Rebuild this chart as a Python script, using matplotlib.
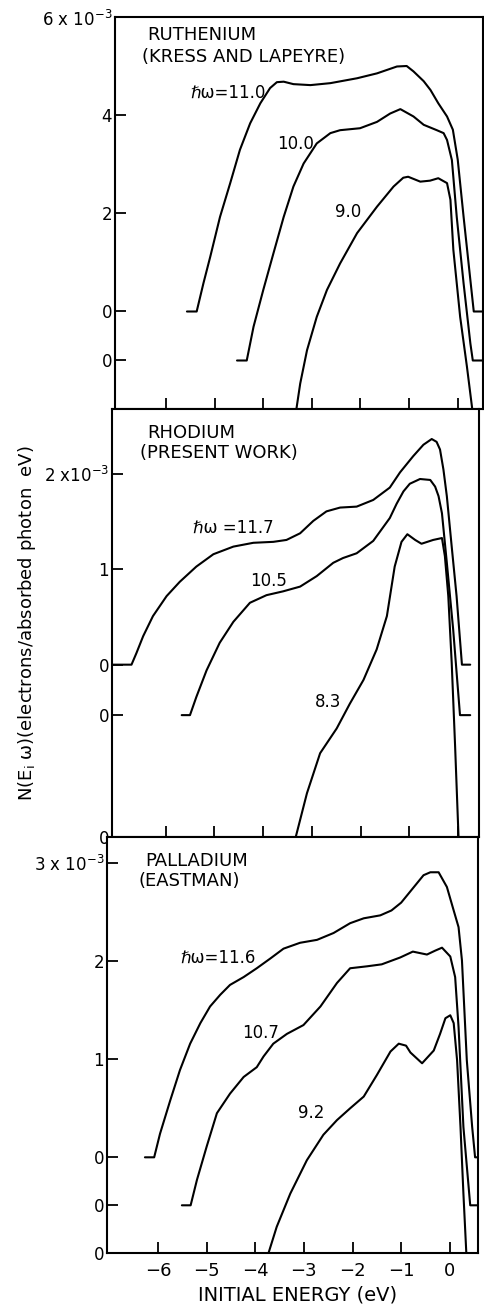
import matplotlib
matplotlib.use("Agg")
import matplotlib.pyplot as plt
import numpy as np

# ---------------- data (N in units of 1e-3 electrons/absorbed photon eV) ----------------
energy_ticks = [-6, -5, -4, -3, -2, -1, 0]
energy_tick_labels = ["\u22126", "\u22125", "\u22124", "\u22123", "\u22122", "\u22121", "0"]

# Ruthenium (Kress and Lapeyre)
ru_110_e = [-5.57, -5.37, -5.23, -5.09, -4.89, -4.68, -4.48, -4.27, -4.06, -3.86, -3.72, -3.58,
            -3.38, -3.03, -2.62, -2.07, -1.66, -1.25, -1.05, -0.91, -0.70, -0.56, -0.40, -0.22,
            -0.10, 0.00, 0.12, 0.23, 0.33, 0.60]
ru_110_n = [0, 0, 0.58, 1.12, 1.93, 2.62, 3.30, 3.84, 4.25, 4.56, 4.68, 4.69,
            4.64, 4.62, 4.66, 4.76, 4.86, 5.00, 5.01, 4.90, 4.70, 4.52, 4.25, 3.98,
            3.71, 3.10, 1.94, 0.92, 0, 0]
ru_100_e = [-4.54, -4.34, -4.20, -4.00, -3.79, -3.58, -3.38, -3.17, -2.90, -2.62, -2.42, -2.01,
            -1.66, -1.39, -1.18, -0.91, -0.70, -0.43, -0.29, -0.22, -0.12, -0.02, 0.12, 0.26,
            0.31, 0.60]
ru_100_n = [0, 0, 0.69, 1.44, 2.19, 2.93, 3.55, 4.02, 4.43, 4.64, 4.70, 4.74,
            4.87, 5.04, 5.13, 4.98, 4.81, 4.70, 4.64, 4.50, 4.09, 2.93, 1.58, 0.35,
            0, 0]
ru_90_e = [-3.32, -3.24, -3.10, -2.90, -2.69, -2.42, -2.07, -1.66, -1.32, -1.12, -1.02, -0.77,
           -0.57, -0.40, -0.22, -0.15, -0.09, 0.05, 0.19, 0.30]
ru_90_n = [0, 0.53, 1.21, 1.89, 2.44, 2.98, 3.60, 4.14, 4.55, 4.73, 4.75, 4.65,
           4.67, 4.72, 4.62, 4.28, 3.26, 1.89, 0.87, 0]
ru_offsets = [2.0, 1.0, 0.0]
ru_labels = ["\u210f\u03c9=11.0", "10.0", "9.0"]

# Rhodium (present work)
rh_117_e = [-7.10, -6.70, -6.60, -6.46, -6.26, -5.98, -5.71, -5.37, -5.02, -4.61, -4.20, -3.79,
            -3.52, -3.24, -2.97, -2.70, -2.42, -2.08, -1.74, -1.40, -1.19, -0.92, -0.71, -0.54,
            -0.44, -0.37, -0.30, -0.23, -0.13, -0.03, 0.08, 0.25]
rh_117_n = [0, 0, 0.12, 0.30, 0.51, 0.72, 0.87, 1.03, 1.16, 1.24, 1.28, 1.29,
            1.31, 1.38, 1.51, 1.61, 1.65, 1.66, 1.73, 1.86, 2.02, 2.19, 2.31, 2.37,
            2.34, 2.26, 2.05, 1.77, 1.24, 0.72, 0, 0]
rh_105_e = [-5.67, -5.50, -5.37, -5.16, -4.89, -4.61, -4.27, -3.93, -3.59, -3.24, -2.90, -2.56,
            -2.36, -2.08, -1.74, -1.40, -1.26, -1.12, -0.99, -0.78, -0.57, -0.47, -0.40, -0.33,
            -0.23, -0.10, 0.04, 0.25]
rh_105_n = [0, 0, 0.19, 0.47, 0.76, 0.98, 1.18, 1.26, 1.30, 1.35, 1.46, 1.60,
            1.65, 1.70, 1.83, 2.07, 2.22, 2.35, 2.43, 2.48, 2.47, 2.40, 2.30, 2.12,
            1.60, 0.90, 0, 0]
rh_83_e = [-3.33, -3.10, -2.83, -2.49, -2.22, -1.94, -1.67, -1.46, -1.30, -1.16, -1.04,
           -0.88, -0.75, -0.51, -0.33, -0.27, -0.20, -0.13, -0.06, 0.01]
rh_83_n = [0, 0.46, 0.88, 1.14, 1.40, 1.65, 1.97, 2.32, 2.84, 3.10, 3.18,
           3.12, 3.08, 3.12, 3.14, 2.95, 2.53, 1.83, 0.95, 0]
rh_offsets = [1.81, 1.28, 0.0]
rh_labels = ["\u210f\u03c9 =11.7", "10.5", "8.3"]

# Palladium (Eastman)
pd_116_e = [-6.27, -6.08, -5.96, -5.75, -5.55, -5.34, -5.13, -4.93, -4.72, -4.52, -4.24, -3.97,
            -3.69, -3.42, -3.08, -2.73, -2.39, -2.05, -1.77, -1.43, -1.20, -1.00, -0.77, -0.54,
            -0.40, -0.23, -0.06, 0.08, 0.18, 0.25, 0.35, 0.46, 0.52, 0.60]
pd_116_n = [0, 0, 0.24, 0.58, 0.89, 1.16, 1.37, 1.54, 1.66, 1.76, 1.84, 1.93,
            2.03, 2.13, 2.19, 2.22, 2.29, 2.39, 2.44, 2.47, 2.52, 2.60, 2.74, 2.88,
            2.91, 2.91, 2.76, 2.52, 2.35, 2.01, 0.99, 0.31, 0, 0]
pd_107_e = [-5.51, -5.33, -5.20, -5.00, -4.79, -4.52, -4.24, -3.97, -3.83, -3.63, -3.35, -3.01,
            -2.66, -2.32, -2.05, -1.70, -1.40, -1.02, -0.76, -0.47, -0.30, -0.16, 0.01, 0.11,
            0.18, 0.28, 0.42, 0.60]
pd_107_n = [0, 0, 0.26, 0.60, 0.94, 1.14, 1.31, 1.41, 1.52, 1.65, 1.75, 1.84,
            2.03, 2.27, 2.42, 2.44, 2.46, 2.53, 2.59, 2.56, 2.60, 2.63, 2.54, 2.33,
            1.82, 0.80, 0, 0]
pd_92_e = [-3.73, -3.56, -3.28, -2.94, -2.60, -2.32, -2.05, -1.77, -1.50, -1.22, -1.05, -0.90,
           -0.81, -0.57, -0.33, -0.20, -0.09, 0.01, 0.08, 0.15, 0.22, 0.28, 0.34]
pd_92_n = [0, 0.27, 0.61, 0.95, 1.21, 1.36, 1.48, 1.60, 1.82, 2.06, 2.14, 2.12,
           2.05, 1.94, 2.07, 2.24, 2.40, 2.43, 2.35, 1.97, 1.29, 0.61, 0]
pd_offsets = [0.98, 0.49, 0.0]
pd_labels = ["\u210f\u03c9=11.6", "10.7", "9.2"]

# y tick labels (values refer to the uppermost curve of each panel)
ru_ytick_labels = ["0", "0", "2", "4", "6 x 10$^{-3}$"]
rh_ytick_labels = ["0", "0", "0", "1", "2 x10$^{-3}$"]
pd_ytick_labels = ["0", "0", "0", "1", "2", "3 x 10$^{-3}$"]

# ---------------- figure ----------------
W, H = 484, 1306
plt.rcParams['font.family'] = ['DejaVu Sans']
fig = plt.figure(figsize=(W / 100, H / 100), dpi=100)


def px_axes(x0, y_top, x1, y_bot):
    return fig.add_axes([x0 / W, 1 - y_bot / H, (x1 - x0) / W, (y_bot - y_top) / H])


# panel frames (pixel boxes) and energy limits
ax_ru = px_axes(115, 17, 483, 409.5)
ax_rh = px_axes(112, 409.5, 479, 837)
ax_pd = px_axes(107, 837, 478, 1253.3)
xlims = {ax_ru: (-7.05, 0.52), ax_rh: (-7.10, 0.43), ax_pd: (-7.05, 0.58)}

panels = [
    (ax_ru, [(ru_110_e, ru_110_n), (ru_100_e, ru_100_n), (ru_90_e, ru_90_n)], ru_offsets,
     8.01, ru_ytick_labels),
    (ax_rh, [(rh_117_e, rh_117_n), (rh_105_e, rh_105_n), (rh_83_e, rh_83_n)], rh_offsets,
     4.49, rh_ytick_labels),
    (ax_pd, [(pd_116_e, pd_116_n), (pd_107_e, pd_107_n), (pd_92_e, pd_92_n)], pd_offsets,
     4.25, pd_ytick_labels),
]

for ax, curves, offs, ytop, ylabels in panels:
    for (e, n), off in zip(curves, offs):
        ax.plot(e, np.asarray(n) + off, color='black', lw=1.5,
                solid_joinstyle='round', solid_capstyle='round')
    ax.set_xlim(*xlims[ax])
    ax.set_ylim(0, ytop)
    top_off = offs[0]
    if ax is ax_ru:
        yt = [offs[1], offs[0]] + [top_off + 2 * k for k in range(1, 4)]
    else:
        n_major = len(ylabels) - 3
        yt = [0.0, offs[1], offs[0]] + [top_off + k for k in range(1, n_major + 1)]
    ax.set_yticks(yt)
    ax.set_yticklabels(ylabels, fontsize=12)
    ax.set_xticks(energy_ticks)
    ax.tick_params(axis='both', direction='in', length=8, width=1.3, pad=2)
    for s in ax.spines.values():
        s.set_linewidth(1.5)

ax_ru.tick_params(axis='x', labelbottom=False)
ax_rh.tick_params(axis='x', labelbottom=False)
ax_pd.set_xticklabels(energy_tick_labels, fontsize=13)
ax_pd.tick_params(axis='x', pad=6)


def ftext(x, y, s, size=12, ha='left', **kw):
    fig.text(x / W, 1 - y / H, s, fontsize=size, ha=ha, va='center', **kw)


ftext(147, 35, "RUTHENIUM", size=13)
ftext(142, 57, "(KRESS AND LAPEYRE)", size=13)
ftext(190, 93, ru_labels[0])
ftext(277, 144, ru_labels[1])
ftext(335, 212, ru_labels[2])

ftext(147, 433, "RHODIUM", size=13)
ftext(140, 453, "(PRESENT WORK)", size=13)
ftext(193, 528, rh_labels[0])
ftext(250, 581, rh_labels[1])
ftext(315, 702, rh_labels[2])

ftext(145, 861, "PALLADIUM", size=13)
ftext(138, 881, "(EASTMAN)", size=13)
ftext(180, 958, pd_labels[0])
ftext(242, 1033, pd_labels[1])
ftext(298, 1113, pd_labels[2])

ftext(298, 1295, "INITIAL ENERGY (eV)", size=14, ha='center')
fig.text(27 / W, 1 - 623 / H, "N(E$_{\\mathregular{i}}$ \u03c9)(electrons/absorbed photon  eV)",
         fontsize=13, rotation=90, ha='center', va='center')

fig.savefig("out.png", dpi=100)
